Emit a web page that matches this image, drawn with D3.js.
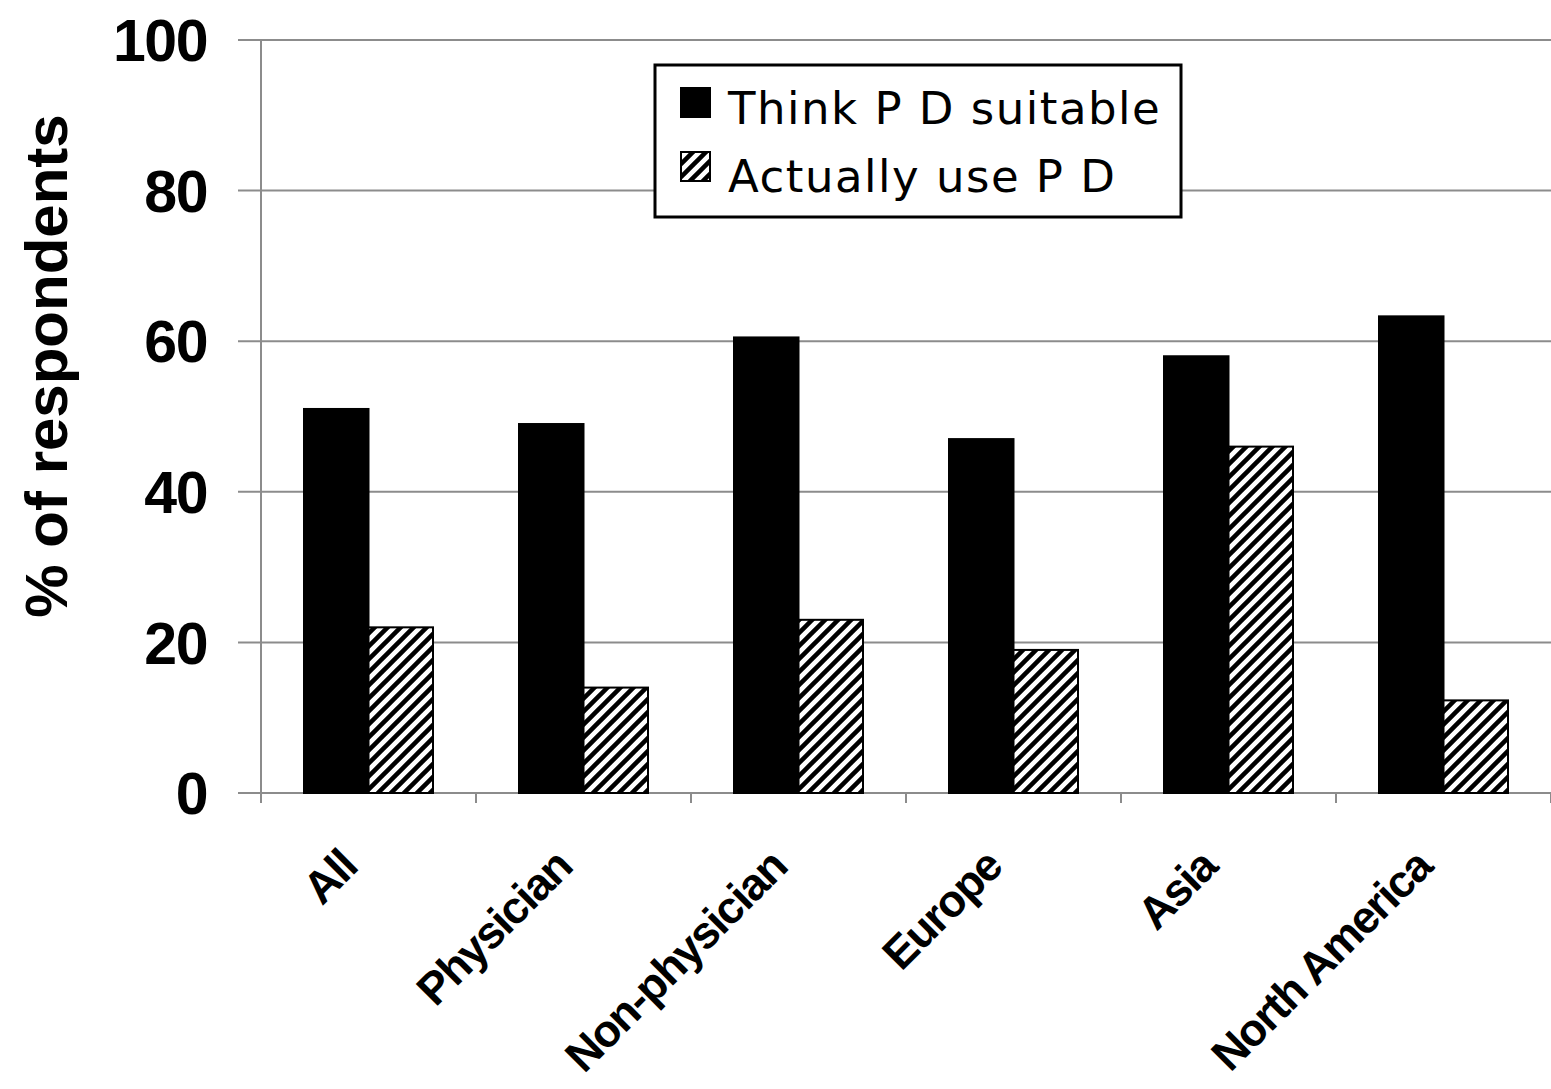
<!DOCTYPE html>
<html>
<head>
<meta charset="utf-8">
<script src="https://cdn.jsdelivr.net/npm/d3@7"></script>
<style>
	body { margin: 0; background: #fff; }
	svg { display: block; }
</style>
</head>
<body>
<svg id="chart"></svg>
<script>

var w = 1551;
var h = 1089;

// data
var categories = ['All', 'Physician', 'Non-physician', 'Europe', 'Asia', 'North America'];
var series = ['Think P D suitable', 'Actually use P D'];
var think_suitable = [51, 49, 60.5, 47, 58, 63.3];
var actually_use = [22, 14, 23, 19, 46, 12.3];
var y_ticks = [0, 20, 40, 60, 80, 100];

var margin = {top: 40, right: 0, bottom: 296, left: 261};

var svg = d3.select('#chart')
	.attr('width', w)
	.attr('height', h)
	.style('background-color', '#fff');

// hatch for the second series
var defs = svg.append('defs');
defs.append('pattern')
	.attr('id', 'hatch')
	.attr('patternUnits', 'userSpaceOnUse')
	.attr('width', 13)
	.attr('height', 13)
	.call(function(p) {
		p.append('rect').attr('width', 13).attr('height', 13).attr('fill', '#fff');
		p.append('path')
			.attr('d', 'M0,13 L13,0 M-4,4 L4,-4 M9,17 L17,9')
			.attr('stroke', '#000')
			.attr('stroke-width', 4.5);
	});

var x0 = d3.scaleBand()
	.domain(categories)
	.range([margin.left, w - margin.right]);

var x1 = d3.scaleBand()
	.domain(series)
	.range([x0.bandwidth() * 0.2, x0.bandwidth() * 0.8]);

var y = d3.scaleLinear()
	.domain([0, 100])
	.range([h - margin.bottom, margin.top]);

// gridlines
svg.append('g')
	.selectAll('line')
	.data(y_ticks)
	.enter()
	.append('line')
	.attr('x1', margin.left - 23)
	.attr('x2', w)
	.attr('y1', function(d) { return y(d); })
	.attr('y2', function(d) { return y(d); })
	.attr('stroke', '#8c8c8c')
	.attr('stroke-width', 2);

// y tick labels
svg.append('g')
	.selectAll('text')
	.data(y_ticks)
	.enter()
	.append('text')
	.attr('x', 207)
	.attr('y', function(d) { return y(d); })
	.attr('dy', '0.36em')
	.attr('text-anchor', 'end')
	.style('font-family', '"Liberation Sans", Arial, sans-serif')
	.style('font-weight', 'bold')
	.style('font-size', '59px')
	.style('letter-spacing', '-1.5px')
	.text(function(d) { return d; });

// y label
svg.append('text')
	.attr('transform', 'translate(67,366) rotate(-90)')
	.attr('text-anchor', 'middle')
	.style('font-family', '"Liberation Sans", Arial, sans-serif')
	.style('font-weight', 'bold')
	.style('font-size', '60px')
	.text('% of respondents');

// bars
var rows = categories.map(function(c, i) {
	return {cat: c, values: [
		{s: series[0], v: think_suitable[i]},
		{s: series[1], v: actually_use[i]}
	]};
});

var groups = svg.append('g')
	.selectAll('g')
	.data(rows)
	.enter()
	.append('g')
	.attr('transform', function(d) { return 'translate(' + x0(d.cat) + ',0)'; });

groups.selectAll('rect')
	.data(function(d) { return d.values; })
	.enter()
	.append('rect')
	.attr('x', function(d) { return x1(d.s); })
	.attr('width', x1.bandwidth())
	.attr('y', function(d) { return y(d.v); })
	.attr('height', function(d) { return y(0) - y(d.v); })
	.attr('fill', function(d) { return d.s == series[0] ? '#000' : 'url(#hatch)'; })
	.attr('stroke', '#000')
	.attr('stroke-width', 2);

// axes lines
svg.append('line')
	.attr('x1', margin.left).attr('x2', margin.left)
	.attr('y1', y(100)).attr('y2', y(0) + 10)
	.attr('stroke', '#8c8c8c')
	.attr('stroke-width', 2);

svg.append('g')
	.selectAll('line')
	.data(categories)
	.enter()
	.append('line')
	.attr('x1', function(d) { return x0(d) + x0.bandwidth(); })
	.attr('x2', function(d) { return x0(d) + x0.bandwidth(); })
	.attr('y1', y(0))
	.attr('y2', y(0) + 10)
	.attr('stroke', '#8c8c8c')
	.attr('stroke-width', 2);

// category labels
svg.append('g')
	.selectAll('text')
	.data(categories)
	.enter()
	.append('text')
	.attr('transform', function(d) {
		return 'translate(' + (x0(d) + x0.bandwidth() / 2 - 9) + ',' + (y(0) + 76) + ') rotate(-45)';
	})
	.attr('text-anchor', 'end')
	.style('font-family', '"Liberation Sans", Arial, sans-serif')
	.style('font-weight', 'bold')
	.style('font-size', '45px')
	.style('letter-spacing', '-1.5px')
	.text(function(d) { return d; });

// legend
var legend = svg.append('g');

legend.append('rect')
	.attr('x', 655)
	.attr('y', 65)
	.attr('width', 526)
	.attr('height', 152)
	.attr('fill', '#fff')
	.attr('stroke', '#000')
	.attr('stroke-width', 3);

legend.selectAll('.key')
	.data(series)
	.enter()
	.append('rect')
	.attr('class', 'key')
	.attr('x', 681)
	.attr('y', function(d, i) { return 88 + i * 64; })
	.attr('width', 29)
	.attr('height', 29)
	.attr('fill', function(d, i) { return i == 0 ? '#000' : 'url(#hatch)'; })
	.attr('stroke', '#000')
	.attr('stroke-width', 2);

legend.selectAll('.ltext')
	.data(series)
	.enter()
	.append('text')
	.attr('class', 'ltext')
	.attr('x', 728)
	.attr('y', function(d, i) { return 124 + i * 68; })
	.style('font-family', '"DejaVu Sans", Verdana, sans-serif')
	.style('font-size', '45px')
	.style('letter-spacing', '1.5px')
	.text(function(d) { return d; });

</script>
</body>
</html>
